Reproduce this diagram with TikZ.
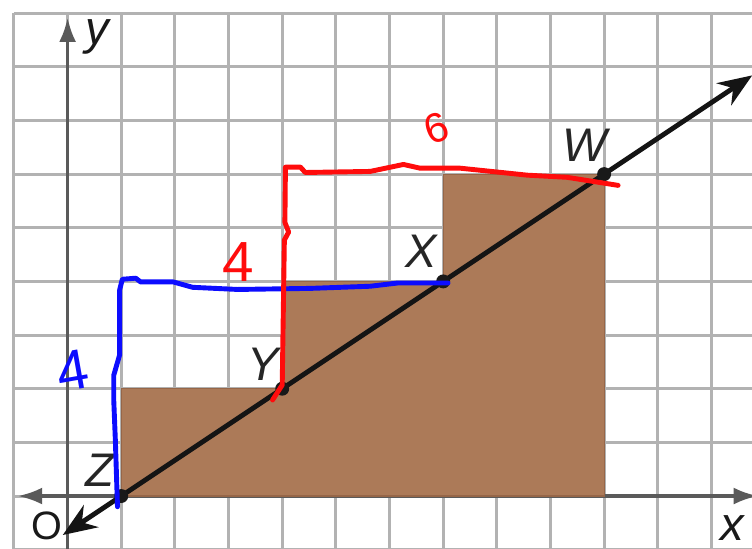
\documentclass[tikz,border=0pt]{standalone}
\usepackage{fontspec}
\setmainfont{Liberation Sans}
\usetikzlibrary{arrows.meta}
\definecolor{gridgray}{RGB}{178,178,178}
\definecolor{axisgray}{RGB}{90,90,90}
\definecolor{brownfill}{RGB}{172,122,88}
\definecolor{brownedge}{RGB}{150,102,72}
\definecolor{penred}{RGB}{255,12,12}
\definecolor{penblue}{RGB}{12,12,255}
\begin{document}
\begin{tikzpicture}[
  gridline/.style={gridgray, line width=1.6pt},
  axisline/.style={axisgray, line width=2pt, {Latex[length=13pt,width=9pt]}-{Latex[length=13pt,width=9pt]}},
  mainline/.style={black!92, line width=2.6pt, {Stealth[length=18pt,width=14pt]}-{Stealth[length=18pt,width=14pt]}},
  ptmark/.style={circle, fill=black!90, inner sep=0pt, minimum size=0.26cm},
  ptlabel/.style={font=\fontsize{25}{25}\selectfont\itshape, text=black!85, inner sep=0pt},
  axlabel/.style={font=\fontsize{25}{25}\selectfont\itshape, text=black!90, inner sep=0pt},
  pen/.style={line width=2.6pt, line join=round, line cap=round},
  handnum/.style={font=\fontsize{30}{30}\selectfont, inner sep=0pt}
]
\useasboundingbox (-1.26,-0.969) rectangle (12.756,9.245);
\clip (-1.26,-0.969) rectangle (12.756,9.245);
\fill[white] (-1.26,-0.969) rectangle (12.756,9.245);

% grid
\draw[gridline] (-1,-2) grid (14,9);

% axes
\coordinate (xl) at (-0.93,0);
\coordinate (xr) at (12.87,0);
\coordinate (yb) at (0,-1.8);
\coordinate (yt) at (0,8.92);
\draw[axisline] (xl) -- (xr);
\draw[axisline] (yb) -- (yt);

% brown staircase
\filldraw[fill=brownfill, draw=brownedge, line width=0.6pt]
  (1,0) -- (1,2) -- (4,2) -- (4,4) -- (7,4) -- (7,6) -- (10,6) -- (10,0) -- cycle;

% main line
\coordinate (lo) at (-0.09,-0.727);
\coordinate (hi) at (12.76,7.84);
\draw[mainline] (lo) -- (hi);

% points
\node[ptmark] (Z) at (1,0) {};
\node[ptmark] (Y) at (4,2) {};
\node[ptmark] (X) at (7,4) {};
\node[ptmark] (W) at (10,6) {};

% labels
\node[ptlabel] (lW) at (9.64,6.53) {W};
\node[ptlabel] (lX) at (6.59,4.56) {X};
\node[ptlabel] (lY) at (3.65,2.45) {Y};
\node[ptlabel] (lZ) at (0.60,0.48) {Z};
\node[axlabel] (ly) at (0.55,8.56) {y};
\node[axlabel] (lx) at (12.38,-0.60) {x};
\node[font=\fontsize{21}{21}\selectfont, text=black!90, inner sep=0pt] (lO) at (-0.38,-0.56) {O};

% blue hand-drawn path
\draw[pen, penblue] (0.93,-0.20) -- (0.89,1.04) -- (0.86,1.79) -- (0.86,2.25) -- (0.97,2.63)
  -- (0.97,3.84) -- (1.02,4.04) -- (1.27,4.06) -- (1.36,3.99) -- (1.97,3.99) -- (2.33,3.89)
  -- (3.17,3.85) -- (4.53,3.87) -- (5.64,3.91) -- (6.15,3.97) -- (7.09,3.97);
\node[handnum, text=penblue, rotate=10] (b4) at (0.09,2.33) {4};

% red hand-drawn path
\draw[pen, penred] (3.82,1.79) -- (4.0,2.07) -- (4.04,4.77) -- (4.12,4.92) -- (4.05,5.1)
  -- (4.06,6.13) -- (4.34,6.13) -- (4.43,6.03) -- (5.64,6.05) -- (6.26,6.18) -- (6.57,6.11)
  -- (7.32,6.11) -- (8.57,5.98) -- (9.31,5.94) -- (10.26,5.79);
\node[handnum, text=penred] (r4) at (3.18,4.36) {4};
\node[font=\fontsize{22}{22}\selectfont, text=penred, inner sep=0pt, rotate=20] (r6) at (6.87,6.85) {6};
\end{tikzpicture}
\end{document}
